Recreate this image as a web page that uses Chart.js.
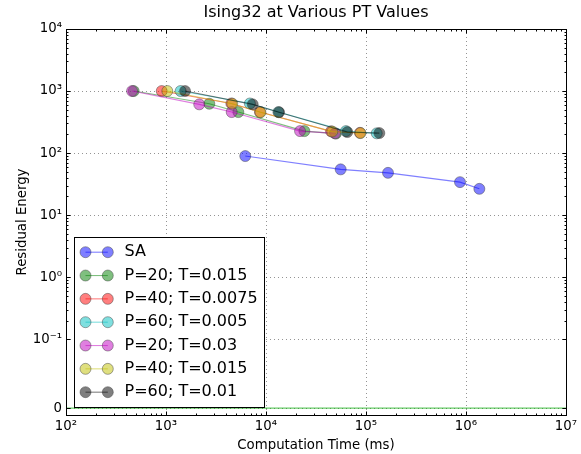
<!DOCTYPE html>
<html>
<head>
<meta charset="utf-8">
<title>Ising32 at Various PT Values</title>
<script src="https://cdn.jsdelivr.net/npm/chart.js@4.4.1/dist/chart.umd.min.js"></script>
<style>
  html, body { margin: 0; padding: 0; background: #fff; }
  canvas { display: block; }
</style>
</head>
<body>
<canvas id="c" width="581" height="454"></canvas>
<script>
/* Ising32 PT vs SA – log x, symlog y (matplotlib look) */
'use strict';

var LABELS = ['SA', 'P=20; T=0.015', 'P=40; T=0.0075', 'P=60; T=0.005', 'P=20; T=0.03', 'P=40; T=0.015', 'P=60; T=0.01'];
var COLORS = ['0,0,255', '0,128,0', '255,0,0', '0,191,191', '191,0,191', '191,191,0', '0,0,0'];

// computation time (ms) / residual energy per series
var saTime = [6200, 55800, 166000, 871000, 1360000];
var saEnergy = [89.5, 54.6, 48, 34, 26.5];
var p20t015Time = [475, 2710, 5290, 24200, 50000];
var p20t015Energy = [1000, 624, 458, 226, 206];
var p40t0075Time = [906, 4500, 8700, 44700, 87000];
var p40t0075Energy = [1000, 630, 458, 224, 212];
var p60t005Time = [1400, 6900, 13300, 63000, 128000];
var p60t005Energy = [1000, 630, 458, 226, 208];
var p20t03Time = [458, 2150, 4540, 21900, 49000];
var p20t03Energy = [1000, 610, 458, 226, 208];
var p40t015Time = [1030, 4600, 8800, 46000, 88000];
var p40t015Energy = [1000, 625, 455, 222, 210];
var p60t01Time = [1550, 7360, 13500, 65000, 136000];
var p60t01Energy = [1000, 610, 455, 218, 210];
// green reference line at zero
var zeroTime = [1e2, 1e7];
var zeroEnergy = [0, 0];

var xTicks = [1e2, 1e3, 1e4, 1e5, 1e6, 1e7];
var yTicks = [0, 0.1, 1, 10, 100, 1000, 10000];
var yMin = -0.01, yMax = 10000;

var FONT = "'DejaVu Sans', 'Liberation Sans', sans-serif";

function sup(n) {
  var m = { '-': '\u207B', '0': '\u2070', '1': '\u00B9', '2': '\u00B2', '3': '\u00B3', '4': '\u2074', '5': '\u2075', '6': '\u2076', '7': '\u2077', '8': '\u2078', '9': '\u2079' };
  return String(n).split('').map(function (c) { return m[c]; }).join('');
}
function powLabel(v) { return v === 0 ? '0' : '10' + sup(Math.round(Math.log10(v))); }

// symlog like matplotlib: linthresh 0.1, linscale 1
var LINTHRESH = 0.1, LINSCALE = 1 / (1 - 1 / 10);
function symT(v) {
  var a = Math.abs(v);
  if (a <= LINTHRESH) return v / LINTHRESH * LINSCALE;
  return Math.sign(v) * (LINSCALE + Math.log10(a / LINTHRESH));
}
function symInv(t) {
  var a = Math.abs(t);
  if (a <= LINSCALE) return t / LINSCALE * LINTHRESH;
  return Math.sign(t) * LINTHRESH * Math.pow(10, a - LINSCALE);
}
class SymlogScale extends Chart.LinearScale {
  buildTicks() { return yTicks.map(function (v) { return { value: v }; }); }
  configure() {
    super.configure();
    this._tMin = symT(this.min);
    this._tMax = symT(this.max);
  }
  getPixelForValue(value) {
    return this.getPixelForDecimal((symT(value) - this._tMin) / (this._tMax - this._tMin));
  }
  getValueForPixel(pixel) {
    return symInv(this._tMin + this.getDecimalForPixel(pixel) * (this._tMax - this._tMin));
  }
}
SymlogScale.id = 'symlog';
SymlogScale.defaults = {};
Chart.register(SymlogScale);

function pts(xs, ys) { return xs.map(function (x, i) { return { x: x, y: ys[i] }; }); }

var seriesData = [
  pts(saTime, saEnergy), pts(p20t015Time, p20t015Energy), pts(p40t0075Time, p40t0075Energy),
  pts(p60t005Time, p60t005Energy), pts(p20t03Time, p20t03Energy), pts(p40t015Time, p40t015Energy),
  pts(p60t01Time, p60t01Energy)
];

var datasets = seriesData.map(function (d, i) {
  return {
    label: LABELS[i], data: d, order: -i,
    borderColor: 'rgba(' + COLORS[i] + ',0.5)', borderWidth: 1.1,
    pointRadius: 5.5, pointBorderWidth: 1,
    pointBackgroundColor: 'rgba(' + COLORS[i] + ',0.5)',
    pointBorderColor: 'rgba(60,60,60,0.45)',
  };
});
datasets.push({
  label: '', data: pts(zeroTime, zeroEnergy), order: 1,
  borderColor: 'rgba(0,170,0,0.6)', borderWidth: 1.1, pointRadius: 0,
});

// frame, inward ticks, title and legend box
var decor = {
  id: 'decor',
  afterDraw: function (chart) {
    var ctx = chart.ctx, a = chart.chartArea;
    var xs = chart.scales.x, ys = chart.scales.y;
    var L = Math.round(a.left) + 0.5, R = Math.round(a.right) + 0.5;
    var T = Math.round(a.top) + 0.5, B = Math.round(a.bottom) + 0.5;
    ctx.save();
    ctx.strokeStyle = '#000';
    ctx.lineWidth = 1;
    ctx.beginPath();
    function vt(v, len) {
      var p = Math.round(xs.getPixelForValue(v)) + 0.5;
      ctx.moveTo(p, B); ctx.lineTo(p, B - len);
      ctx.moveTo(p, T); ctx.lineTo(p, T + len);
    }
    function ht(v, len) {
      var p = Math.round(ys.getPixelForValue(v)) + 0.5;
      ctx.moveTo(L, p); ctx.lineTo(L + len, p);
      ctx.moveTo(R, p); ctx.lineTo(R - len, p);
    }
    xTicks.forEach(function (v) { vt(v, 4); });
    yTicks.forEach(function (v) { ht(v, 4); });
    for (var d = 2; d < 7; d++) for (var m = 2; m < 10; m++) vt(m * Math.pow(10, d), 2);
    for (var e = -1; e < 4; e++) for (var k = 2; k < 10; k++) ht(k * Math.pow(10, e), 2);
    ctx.stroke();
    ctx.strokeRect(L, T, R - L, B - T);

    // title
    ctx.fillStyle = '#000';
    ctx.font = '16px ' + FONT;
    ctx.textAlign = 'center';
    ctx.textBaseline = 'alphabetic';
    ctx.fillText('Ising32 at Various PT Values', (a.left + a.right) / 2, 16.5);

    // legend, lower left
    var lx = a.left + 8.5, lb = Math.round(a.bottom) - 7.5, lw = 190, lh = 170, ly = lb - lh;
    ctx.fillStyle = '#fff';
    ctx.fillRect(lx, ly, lw, lh);
    ctx.strokeRect(lx, ly, lw, lh);
    ctx.font = '16px ' + FONT;
    ctx.textAlign = 'left';
    ctx.textBaseline = 'middle';
    LABELS.forEach(function (lab, i) {
      var y = ly + 14.7 + i * 23.33, c = 'rgba(' + COLORS[i] + ',0.5)';
      var x1 = lx + 11, x2 = lx + 33.3;
      ctx.strokeStyle = c;
      ctx.lineWidth = 1.1;
      ctx.beginPath(); ctx.moveTo(x1, y); ctx.lineTo(x2, y); ctx.stroke();
      [x1, x2].forEach(function (x) {
        ctx.beginPath(); ctx.arc(x, y, 5.5, 0, Math.PI * 2);
        ctx.fillStyle = c; ctx.fill();
        ctx.strokeStyle = 'rgba(60,60,60,0.45)'; ctx.lineWidth = 1; ctx.stroke();
      });
      ctx.fillStyle = '#000';
      ctx.fillText(lab, lx + 50, y);
    });
    ctx.restore();
  }
};

var GRID = { color: 'rgba(0,0,0,0.42)', lineWidth: 1, drawTicks: false };

new Chart(document.getElementById('c').getContext('2d'), {
  type: 'line',
  data: { datasets: datasets },
  options: {
    responsive: false, animation: false, events: [],
    layout: { padding: { top: 29, right: 15, left: 0, bottom: 0 } },
    plugins: { legend: { display: false }, tooltip: { enabled: false }, title: { display: false } },
    scales: {
      x: {
        type: 'logarithmic', min: 1e2, max: 1e7,
        grid: GRID, border: { display: false, dash: [1, 3] },
        afterBuildTicks: function (s) { s.ticks = xTicks.map(function (v) { return { value: v }; }); },
        afterFit: function (s) { s.height = 39; s.paddingLeft = 0; s.paddingRight = 0; },
        ticks: { autoSkip: false, maxRotation: 0, padding: 4, color: '#000', font: { family: FONT, size: 13.3 }, callback: powLabel },
        title: { display: true, text: 'Computation Time (ms)', color: '#000', font: { family: FONT, size: 13.3 }, padding: { top: 0, bottom: 0 } },
      },
      y: {
        type: 'symlog', min: yMin, max: yMax,
        grid: GRID, border: { display: false, dash: [1, 3] },
        afterFit: function (s) { s.width = 66; },
        ticks: { autoSkip: false, padding: 4, color: '#000', font: { family: FONT, size: 13.3 }, callback: powLabel },
        title: { display: true, text: 'Residual Energy', color: '#000', font: { family: FONT, size: 13.3 }, padding: { top: 15, bottom: 0 } },
      },
    },
  },
  plugins: [decor],
});
</script>
</body>
</html>
